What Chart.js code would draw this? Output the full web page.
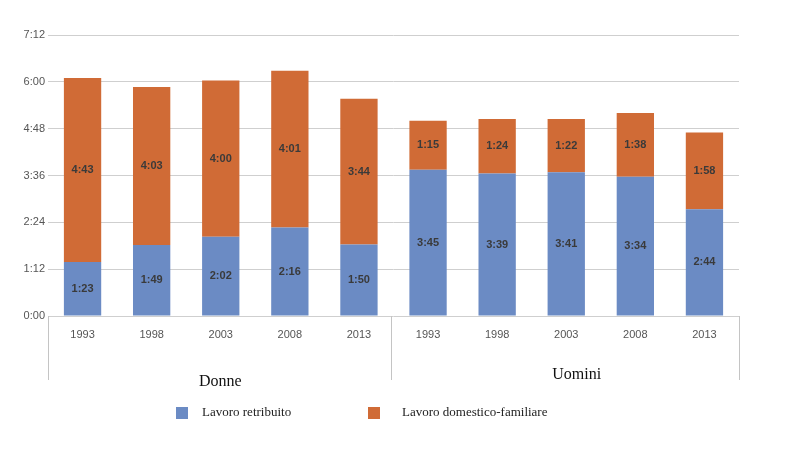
<!DOCTYPE html>
<html lang="it">
<head>
  <meta charset="UTF-8" />
  <title>Lavoro retribuito e domestico-familiare</title>
  <script src="https://cdn.jsdelivr.net/npm/chart.js"></script>
  <style>
    html, body { margin: 0; padding: 0; background: #fff; }
    .wrap { position: relative; width: 789px; height: 450px; }
    .legend { position: absolute; top: 404px; font-family: "Liberation Serif", "Times New Roman", serif; font-size: 13px; color: #222; }
    .legend span.box { position: absolute; top: 3px; width: 12px; height: 12px; }
  </style>
</head>
<body>
  <div class="wrap">
    <canvas id="grafico" width="789" height="450"></canvas>
    <div class="legend" style="left:176px;"><span class="box" style="background:#6b8bc4;"></span><span style="margin-left:26px;">Lavoro retribuito</span></div>
    <div class="legend" style="left:368px;"><span class="box" style="background:#d06b36;"></span><span style="margin-left:34px;">Lavoro domestico-familiare</span></div>
  </div>

  <script>
    // minuti al giorno
    const anni = ['1993', '1998', '2003', '2008', '2013', '1993', '1998', '2003', '2008', '2013'];
    const gruppi = ['Donne', 'Uomini'];
    const retribuito = [83, 109, 122, 136, 110, 225, 219, 221, 214, 164];
    const domestico = [283, 243, 240, 241, 224, 75, 84, 82, 98, 118];
    const tickY = [0, 72, 144, 216, 288, 360, 432];

    function hm(min) {
      const h = Math.floor(min / 60);
      const m = Math.round(min % 60);
      return h + ':' + String(m).padStart(2, '0');
    }

    const etichette = {
      id: 'etichette',
      afterDatasetsDraw(chart) {
        const ctx = chart.ctx;
        ctx.save();
        ctx.font = 'bold 11px "Liberation Sans", Arial, sans-serif';
        ctx.fillStyle = '#3a3a3a';
        ctx.textAlign = 'center';
        ctx.textBaseline = 'middle';
        chart.data.datasets.forEach((ds, i) => {
          chart.getDatasetMeta(i).data.forEach((bar, j) => {
            ctx.fillText(hm(ds.data[j]), bar.x, (bar.y + bar.base) / 2);
          });
        });
        ctx.restore();
      }
    };

    const gruppiPlugin = {
      id: 'gruppi',
      afterDraw(chart) {
        const ctx = chart.ctx;
        const area = chart.chartArea;
        const x = chart.scales.x;
        const meta = (x.getPixelForValue(4) + x.getPixelForValue(5)) / 2 - 3;
        ctx.save();
        ctx.strokeStyle = '#c4c4c4';
        ctx.lineWidth = 1;
        [area.left, meta, area.right].forEach(px => {
          ctx.beginPath();
          ctx.moveTo(Math.round(px) + 0.5, area.bottom);
          ctx.lineTo(Math.round(px) + 0.5, area.bottom + 64);
          ctx.stroke();
        });
        ctx.font = '16px "Liberation Serif", "Times New Roman", serif';
        ctx.fillStyle = '#111';
        ctx.textAlign = 'center';
        ctx.textBaseline = 'middle';
        ctx.fillText(gruppi[0], (area.left + meta) / 2 + 1, area.bottom + 66);
        ctx.fillText(gruppi[1], (meta + area.right) / 2 + 12, area.bottom + 59);
        ctx.restore();
      }
    };

    new Chart(document.getElementById('grafico'), {
      type: 'bar',
      data: {
        labels: anni,
        datasets: [
          { label: 'Lavoro retribuito', data: retribuito, backgroundColor: '#6b8bc4' },
          { label: 'Lavoro domestico-familiare', data: domestico, backgroundColor: '#d06b36' }
        ]
      },
      options: {
        responsive: false,
        animation: false,
        layout: { padding: { left: 0, right: 50, top: 35, bottom: 94 } },
        datasets: { bar: { categoryPercentage: 1, barPercentage: 0.54 } },
        plugins: { legend: { display: false }, tooltip: { enabled: false } },
        scales: {
          x: {
            stacked: true,
            grid: { display: false },
            border: { display: false },
            ticks: { padding: 4, color: '#555', font: { family: '"Liberation Sans", Arial, sans-serif', size: 11 } },
            afterFit(s) { s.height = 40; }
          },
          y: {
            stacked: true,
            min: 0,
            max: 432,
            afterBuildTicks(s) { s.ticks = tickY.map(v => ({ value: v })); },
            grid: { color: '#cfcfcf', drawTicks: false },
            border: { display: false },
            ticks: { padding: 3, color: '#555', font: { family: '"Liberation Sans", Arial, sans-serif', size: 11 }, callback: v => hm(v) },
            afterFit(s) { s.width = 48; }
          }
        }
      },
      plugins: [etichette, gruppiPlugin]
    });
  </script>
</body>
</html>
